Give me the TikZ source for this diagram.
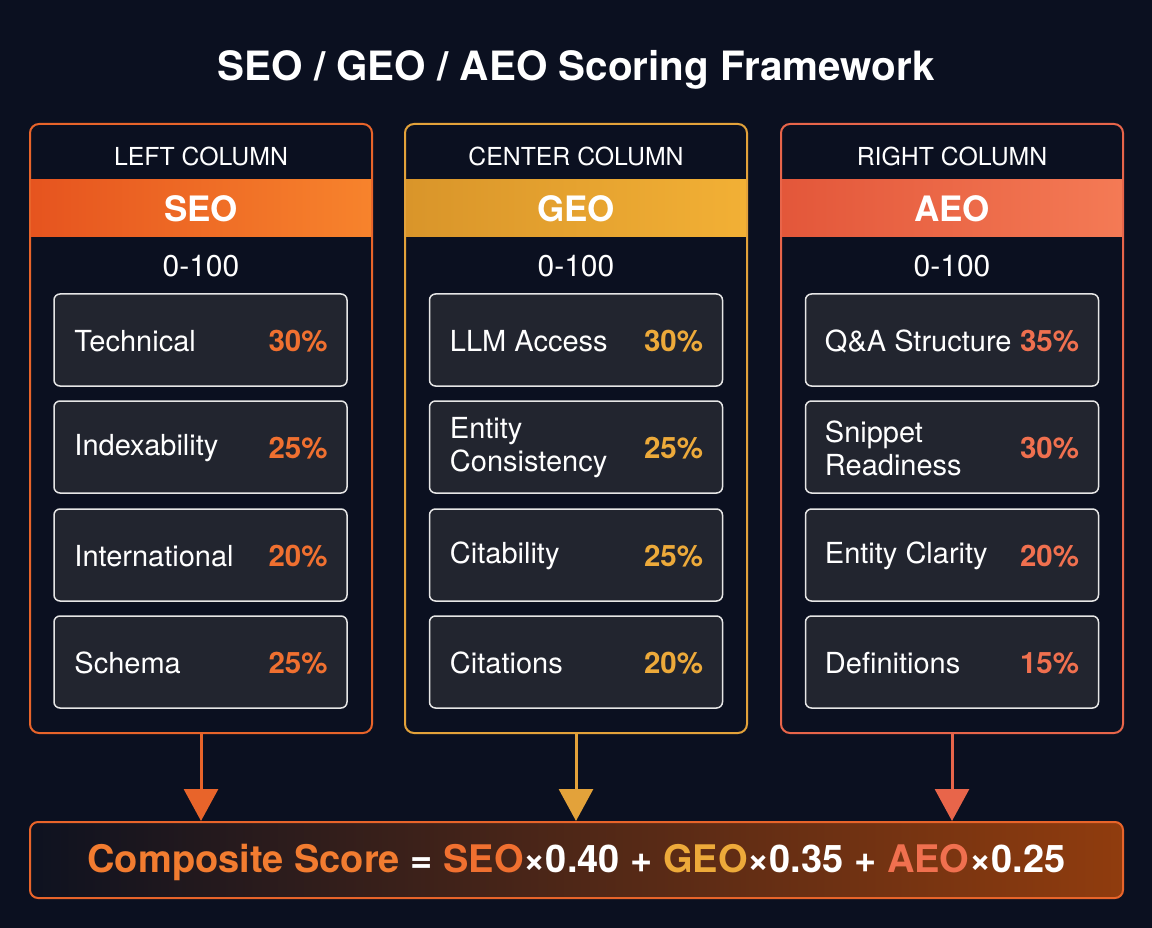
\documentclass[tikz,border=0pt]{standalone}
\usepackage{fontspec}
\setmainfont{TeX Gyre Heros}
\usetikzlibrary{arrows.meta}
\definecolor{bg}{HTML}{0B1020}
\definecolor{itemfill}{HTML}{22252F}
\definecolor{itemdraw}{HTML}{E6E6E6}
\definecolor{seoC}{HTML}{E8642A}
\definecolor{geoC}{HTML}{E3A23A}
\definecolor{aeoC}{HTML}{E8654A}
\definecolor{seoL}{HTML}{E6541F}
\definecolor{seoR}{HTML}{F7832C}
\definecolor{geoL}{HTML}{D9952A}
\definecolor{geoR}{HTML}{F2B035}
\definecolor{aeoL}{HTML}{E3573A}
\definecolor{aeoR}{HTML}{F47A55}
\definecolor{seoP}{HTML}{F07030}
\definecolor{geoP}{HTML}{EDAA3A}
\definecolor{aeoP}{HTML}{F0704F}
\definecolor{compL}{HTML}{0E1220}
\definecolor{compM}{HTML}{4A2012}
\definecolor{compR}{HTML}{903C0E}
\definecolor{compT}{HTML}{F27C30}
\begin{document}
\begin{tikzpicture}[x=1pt,y=-1pt,
  colbox/.style={rectangle, rounded corners=9pt, minimum width=342pt, minimum height=609pt, line width=2pt, inner sep=0pt},
  band/.style={rectangle, minimum width=340pt, minimum height=57pt, inner sep=0pt, text=white, font=\fontsize{35}{38}\selectfont\bfseries},
  hdr/.style={text=white, inner sep=0pt, font=\fontsize{24.8}{28}\selectfont},
  rng/.style={text=white, inner sep=0pt, font=\fontsize{30}{33}\selectfont},
  item/.style={rectangle, rounded corners=6pt, minimum width=293pt, minimum height=92pt, fill=itemfill, draw=itemdraw, line width=1.5pt, inner sep=0pt},
  lbl/.style={text=white, inner sep=0pt, anchor=west, align=left, font=\fontsize{29}{33}\selectfont},
  pct/.style={inner sep=0pt, anchor=east, font=\fontsize{29.5}{32}\selectfont\bfseries},
  arr/.style={line width=3pt, -{Triangle[width=34pt,length=32pt]}}
]
\fill[bg] (0,0) rectangle (1152,928);
\node[text=white, inner sep=0pt, font=\fontsize{40.4}{44}\selectfont\bfseries] (title) at (576,69.5) {SEO / GEO / AEO Scoring Framework};

% columns
\node[colbox, draw=seoC] (seo) at (201,428.5) {};
\node[colbox, draw=geoC] (geo) at (576,428.5) {};
\node[colbox, draw=aeoC] (aeo) at (952,428.5) {};

\node[hdr] (seohdr) at (201,156) {LEFT COLUMN};
\node[hdr] (geohdr) at (576,156) {CENTER COLUMN};
\node[hdr] (aeohdr) at (952,156) {RIGHT COLUMN};

\node[band, left color=seoL, right color=seoR] (seoband) at (201,208.5) {SEO};
\node[band, left color=geoL, right color=geoR] (geoband) at (576,208.5) {GEO};
\node[band, left color=aeoL, right color=aeoR] (aeoband) at (952,208.5) {AEO};

\node[rng] (seorng) at (201,266) {0-100};
\node[rng] (georng) at (576,266) {0-100};
\node[rng] (aeorng) at (952,266) {0-100};

% SEO items
\node[item] (s1) at (200.5,340) {};
\node[item] (s2) at (200.5,447) {};
\node[item] (s3) at (200.5,555) {};
\node[item] (s4) at (200.5,662) {};
\node[lbl] (s1l) at ([xshift=21pt,yshift=-1pt]s1.west) {Technical};
\node[lbl] (s2l) at ([xshift=21pt,yshift=-1pt]s2.west) {Indexability};
\node[lbl] (s3l) at ([xshift=21pt,yshift=-1pt]s3.west) {International};
\node[lbl] (s4l) at ([xshift=21pt,yshift=-1pt]s4.west) {Schema};
\node[pct, text=seoP] (s1p) at ([xshift=-20pt,yshift=-1pt]s1.east) {30\%};
\node[pct, text=seoP] (s2p) at ([xshift=-20pt,yshift=-1pt]s2.east) {25\%};
\node[pct, text=seoP] (s3p) at ([xshift=-20pt,yshift=-1pt]s3.east) {20\%};
\node[pct, text=seoP] (s4p) at ([xshift=-20pt,yshift=-1pt]s4.east) {25\%};

% GEO items
\node[item] (g1) at (576,340) {};
\node[item] (g2) at (576,447) {};
\node[item] (g3) at (576,555) {};
\node[item] (g4) at (576,662) {};
\node[lbl] (g1l) at ([xshift=21pt,yshift=-1pt]g1.west) {LLM Access};
\node[lbl] (g2l) at ([xshift=21pt,yshift=-1pt]g2.west) {Entity\\Consistency};
\node[lbl] (g3l) at ([xshift=21pt,yshift=-1pt]g3.west) {Citability};
\node[lbl] (g4l) at ([xshift=21pt,yshift=-1pt]g4.west) {Citations};
\node[pct, text=geoP] (g1p) at ([xshift=-20pt,yshift=-1pt]g1.east) {30\%};
\node[pct, text=geoP] (g2p) at ([xshift=-20pt,yshift=-1pt]g2.east) {25\%};
\node[pct, text=geoP] (g3p) at ([xshift=-20pt,yshift=-1pt]g3.east) {25\%};
\node[pct, text=geoP] (g4p) at ([xshift=-20pt,yshift=-1pt]g4.east) {20\%};

% AEO items
\node[item] (a1) at (952,340) {};
\node[item] (a2) at (952,447) {};
\node[item] (a3) at (952,555) {};
\node[item] (a4) at (952,662) {};
\node[lbl] (a1l) at ([xshift=20pt,yshift=-1pt]a1.west) {Q\&A Structure};
\node[lbl] (a2l) at ([xshift=20pt,yshift=-1pt]a2.west) {Snippet\\Readiness};
\node[lbl] (a3l) at ([xshift=20pt,yshift=-1pt]a3.west) {Entity Clarity};
\node[lbl] (a4l) at ([xshift=20pt,yshift=-1pt]a4.west) {Definitions};
\node[pct, text=aeoP] (a1p) at ([xshift=-20pt,yshift=-1pt]a1.east) {35\%};
\node[pct, text=aeoP] (a2p) at ([xshift=-20pt,yshift=-1pt]a2.east) {30\%};
\node[pct, text=aeoP] (a3p) at ([xshift=-20pt,yshift=-1pt]a3.east) {20\%};
\node[pct, text=aeoP] (a4p) at ([xshift=-20pt,yshift=-1pt]a4.east) {15\%};

% composite
\node[rectangle, rounded corners=8pt, minimum width=1093pt, minimum height=76pt, inner sep=0pt,
  left color=compL, middle color=compM, right color=compR, draw=seoC, line width=2pt] (comp) at (576.5,860) {};
\node[inner sep=0pt, font=\fontsize{38}{42}\selectfont\bfseries] (comptext) at ([yshift=-2.5pt]comp.center)
  {\textcolor{compT}{Composite Score} \textcolor{white}{=} \textcolor{seoP}{SEO}\textcolor{white}{×0.40 + }\textcolor{geoP}{GEO}\textcolor{white}{×0.35 + }\textcolor{aeoP}{AEO}\textcolor{white}{×0.25}};

% arrows
\draw[arr, seoC] (seo.south) -- (seo.south |- comp.north);
\draw[arr, geoC] (geo.south) -- (geo.south |- comp.north);
\draw[arr, aeoC] (aeo.south) -- (aeo.south |- comp.north);
\end{tikzpicture}
\end{document}
